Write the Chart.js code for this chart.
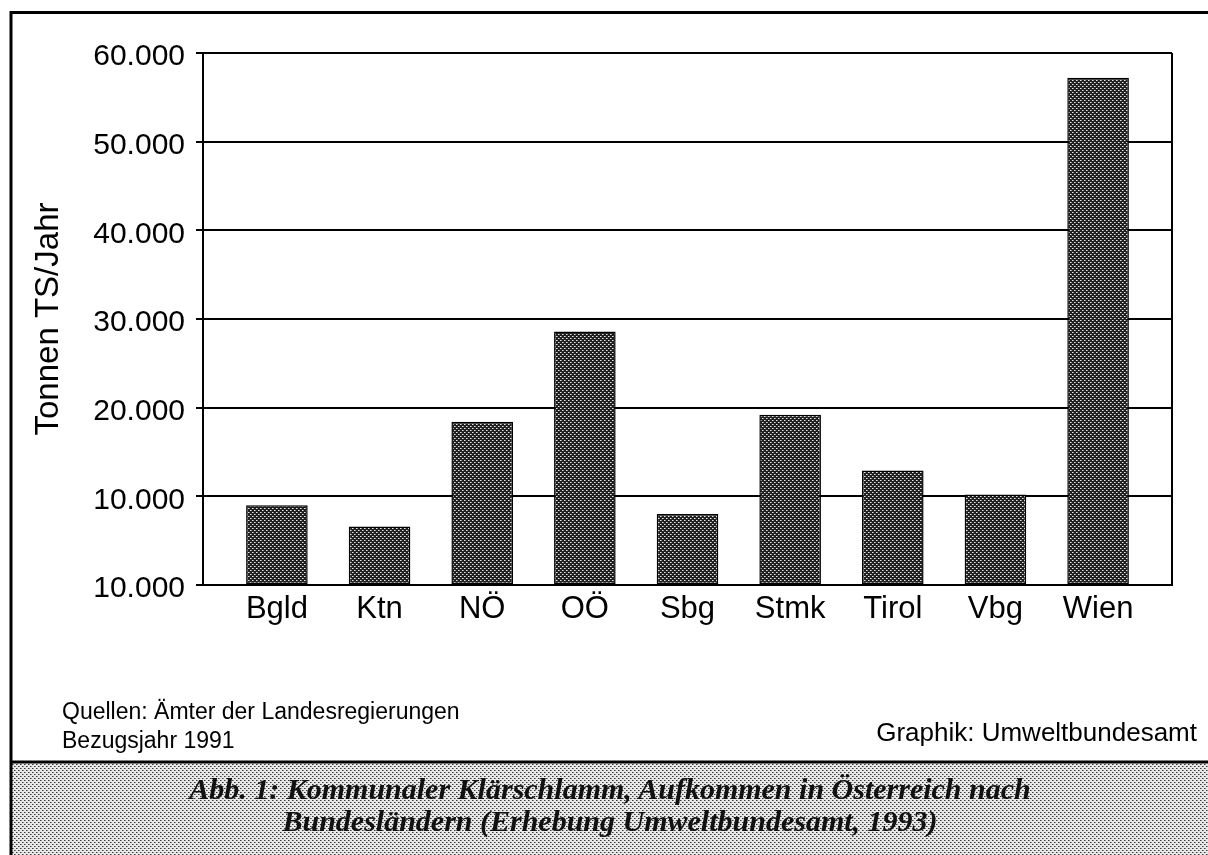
<!DOCTYPE html>
<html>
<head>
<meta charset="utf-8">
<script src="https://cdn.jsdelivr.net/npm/chart.js@4.4.0/dist/chart.umd.min.js"></script>
<style>
  body { margin: 0; background: #fff; }
  #page { position: relative; width: 1208px; height: 855px; overflow: hidden;
          font-family: "Liberation Sans", Arial, Helvetica, sans-serif; color: #000; }
  #chartBox { position: absolute; left: 0; top: 0; width: 1208px; height: 855px; }
  .note { position: absolute; font-size: 23px; line-height: 26px; white-space: nowrap; }
  #caption { position: absolute; left: 12px; right: 0; top: 773px; text-align: center;
             font-family: "Liberation Serif", "Times New Roman", serif; font-style: italic;
             font-weight: bold; font-size: 30px; line-height: 32px; color: #111; }
</style>
</head>
<body>
<div id="page">
  <div id="chartBox"><canvas id="myChart"></canvas></div>
  <div class="note" style="left:62px; top:698px;">Quellen: Ämter der Landesregierungen</div>
  <div class="note" style="left:62px; top:727px;">Bezugsjahr 1991</div>
  <div class="note" style="right:11px; top:719px; font-size:26px;">Graphik: Umweltbundesamt</div>
  <div id="caption">Abb. 1: Kommunaler Klärschlamm, Aufkommen in Österreich nach<br>Bundesländern (Erhebung Umweltbundesamt, 1993)</div>
</div>
<script>
const regions = ['Bgld', 'Ktn', 'NÖ', 'OÖ', 'Sbg', 'Stmk', 'Tirol', 'Vbg', 'Wien'];
const tonnes = [9000, 6600, 18400, 28600, 8000, 19200, 12900, 10200, 57200];
const yTickLabels = ['10.000', '10.000', '20.000', '30.000', '40.000', '50.000', '60.000'];

// small dithered tile, like the halftone of the scan
function dither(bg, dot, mid) {
    const c = document.createElement('canvas');
    c.width = 4; c.height = 4;
    const g = c.getContext('2d');
    g.fillStyle = bg; g.fillRect(0, 0, 4, 4);
    g.fillStyle = dot; g.fillRect(0, 0, 1, 1); g.fillRect(2, 2, 1, 1);
    g.fillStyle = mid; g.fillRect(1, 0, 1, 1); g.fillRect(3, 2, 1, 1);
    return c;
}

const ctx = document.getElementById('myChart').getContext('2d');
const barFill = ctx.createPattern(dither('#202020', '#e6e6e6', '#909090'), 'repeat');
const captionFill = ctx.createPattern(dither('#e8e8e8', '#3a3a3a', '#8a8a8a'), 'repeat');

const framePlugin = {
    id: 'frame',
    beforeDraw(chart) {
        const c = chart.ctx;
        c.save();
        c.fillStyle = captionFill;
        c.fillRect(11, 762, 1208 - 11, 855 - 762);
        c.restore();
    },
    afterDraw(chart) {
        const c = chart.ctx, a = chart.chartArea;
        c.save();
        c.strokeStyle = '#000';
        c.lineWidth = 2;
        c.beginPath();
        c.moveTo(a.right, a.top); c.lineTo(a.right, a.bottom);
        c.stroke();
        c.lineWidth = 3;
        c.beginPath();
        c.moveTo(11, 855); c.lineTo(11, 12.5); c.lineTo(1208, 12.5);
        c.moveTo(11, 762); c.lineTo(1208, 762);
        c.stroke();
        c.restore();
    }
};

new Chart(ctx, {
    type: 'bar',
    data: {
        datasets: [{
            data: regions.map((r, i) => ({ x: i, y: tonnes[i] })),
            backgroundColor: barFill,
            borderColor: '#000',
            borderWidth: 1.5,
            borderSkipped: false,
            barPercentage: 0.6,
            categoryPercentage: 1
        }]
    },
    options: {
        responsive: true,
        maintainAspectRatio: false,
        animation: false,
        layout: { padding: { left: 0, top: 53, right: 36, bottom: 210 } },
        plugins: {
            legend: { display: false },
            tooltip: { enabled: false }
        },
        scales: {
            x: {
                type: 'linear',
                offset: false,
                min: -0.72,
                max: 8.72,
                afterFit: s => { s.height = 60; },
                afterBuildTicks: s => { s.ticks = regions.map((r, i) => ({ value: i })); },
                grid: { display: false, drawTicks: false },
                border: { display: true, color: '#000', width: 2 },
                ticks: {
                    autoSkip: false,
                    maxRotation: 0,
                    padding: 6,
                    color: '#000',
                    font: { family: '"Liberation Sans", Arial, sans-serif', size: 31 },
                    callback: v => regions[v]
                }
            },
            y: {
                type: 'linear',
                min: 0,
                max: 60000,
                afterFit: s => { s.width = 203; },
                grid: { color: '#000', lineWidth: 2, tickLength: 7, drawTicks: true },
                border: { display: true, color: '#000', width: 2 },
                ticks: {
                    stepSize: 10000,
                    padding: 11,
                    labelOffset: 4,
                    color: '#000',
                    font: { family: '"Liberation Sans", Arial, sans-serif', size: 30 },
                    callback: (v, i) => yTickLabels[i]
                },
                title: {
                    display: true,
                    text: 'Tonnen TS/Jahr',
                    color: '#000',
                    padding: { top: 29, bottom: 0 },
                    font: { family: '"Liberation Sans", Arial, sans-serif', size: 33 }
                }
            }
        }
    },
    plugins: [framePlugin]
});
</script>
</body>
</html>
